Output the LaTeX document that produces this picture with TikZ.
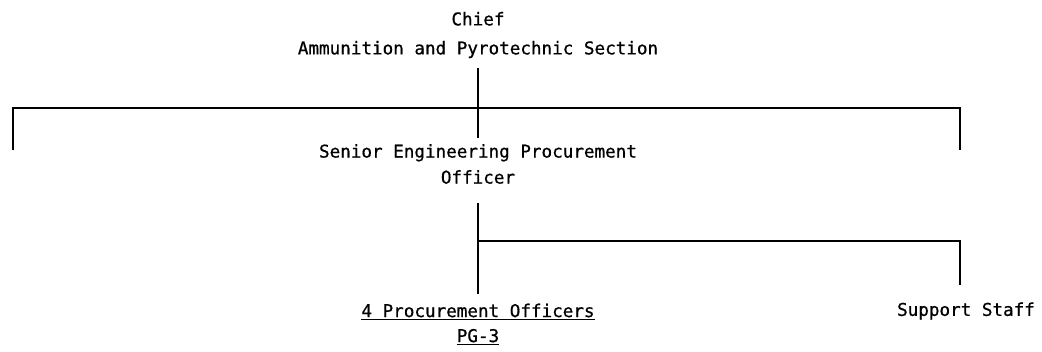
\documentclass[tikz,border=0pt]{standalone}
\usepackage{fontspec}
\setmonofont{DejaVu Sans Mono}[FakeBold=0.7]
\tikzset{
  chartline/.style={line width=1.3pt},
  chartlabel/.style={font=\ttfamily\fontsize{17.6}{26}\selectfont, inner sep=0pt, align=center},
}
\begin{document}
\begin{tikzpicture}[x=1pt, y=-1pt]
        \useasboundingbox (0, 0) rectangle (1042, 352);
        %%top
        \node[chartlabel, font=\ttfamily\fontsize{17.6}{29}\selectfont] (chief) at(478, 35){Chief\\Ammunition and Pyrotechnic Section};
        %%middle
        \node[chartlabel] (senior) at(478, 164){Senior Engineering Procurement\\Officer};
        %%bottom
        \node[chartlabel, font=\ttfamily\fontsize{17.6}{25}\selectfont] (officers) at(478, 324){\underline{4 Procurement Officers}\\\underline{PG-3}};
        \node[chartlabel] (support) at(966, 311){Support Staff};

        %%bar
        \coordinate (barleft) at(13, 150);
        \coordinate (barright) at(960, 150);
            \draw[chartline](barleft) -- ++(0, -42) -| (barright);
        \draw[chartline, shorten <=10pt, shorten >=5.6pt](chief) -- (senior);

        %%fork
        \coordinate (fork) at(478, 241);
        \draw[chartline, shorten <=19pt, shorten >=9.6pt](senior) -- (officers);
            \draw[chartline, shorten >=17.6pt](fork) -| ([xshift=-6pt]support.north);
\end{tikzpicture}
\end{document}
